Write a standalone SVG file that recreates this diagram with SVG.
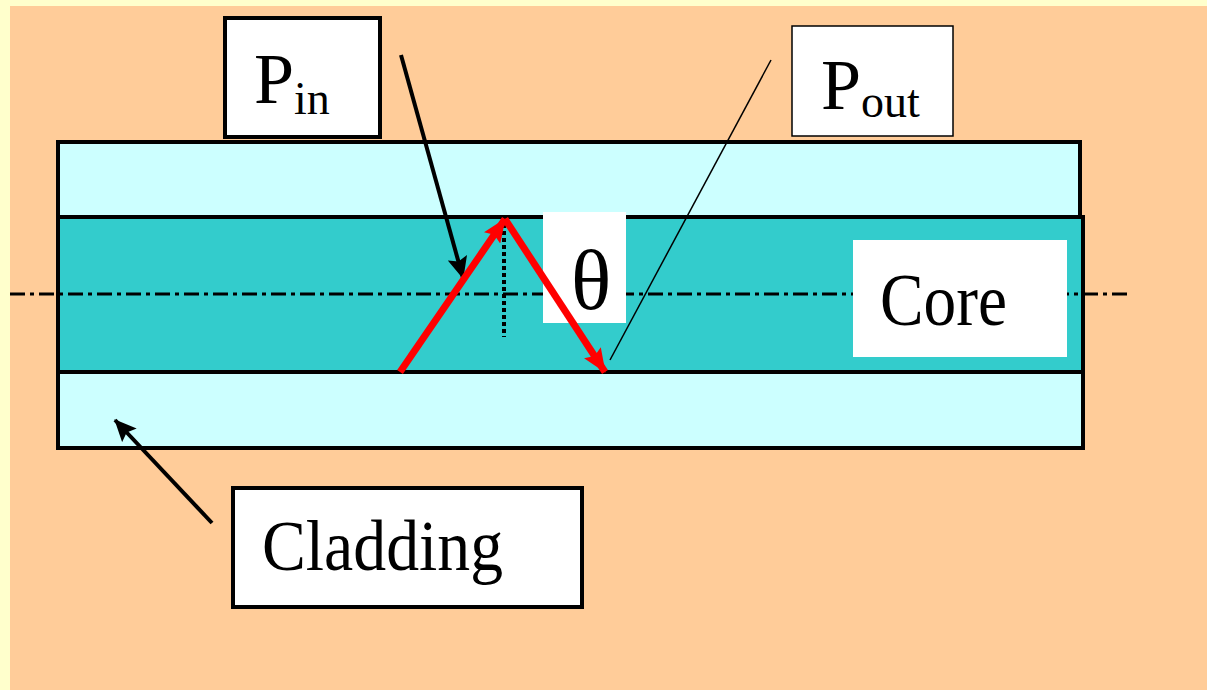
<svg xmlns="http://www.w3.org/2000/svg" width="1207" height="690" viewBox="0 0 1207 690">
<style>
.lbl{fill:#fff;stroke:#000;stroke-width:4}
.t{font-family:"Liberation Serif","Times New Roman",serif;fill:#000}
.clad{fill:#CCFFFF;stroke:#000;stroke-width:4}
</style>
<defs>
<marker id="ab" viewBox="0 0 22 20" refX="21" refY="10" markerWidth="22" markerHeight="20" markerUnits="userSpaceOnUse" orient="auto">
<path d="M0,0 L22,10 L0,20 L4,10 z" fill="#000"/>
</marker>
<marker id="ar" viewBox="0 0 24 20" refX="23" refY="10" markerWidth="24" markerHeight="20" markerUnits="userSpaceOnUse" orient="auto">
<path d="M0,0 L24,10 L0,20 L4,10 z" fill="#FF0000"/>
</marker>
</defs>
<rect x="0" y="0" width="1207" height="690" fill="#FFFFCC"/>
<rect x="10" y="6" width="1197" height="684" fill="#FFCC99"/>
<g id="fiber">
<rect class="clad" x="58" y="142" width="1022" height="75"/>
<rect x="58" y="217" width="1025" height="155" fill="#33CCCC" stroke="#000" stroke-width="4"/>
<rect class="clad" x="58" y="372" width="1025" height="76"/>
</g>
<g id="connectors">
<line x1="10" y1="294" x2="1127" y2="294" stroke="#000" stroke-width="3" stroke-dasharray="15,5,4,5"/>
<line x1="504" y1="224" x2="504" y2="337" stroke="#000" stroke-width="4" stroke-dasharray="4,3"/>
<line x1="401" y1="55" x2="463" y2="278" stroke="#000" stroke-width="4" marker-end="url(#ab)"/>
<line x1="771" y1="60" x2="610" y2="360" stroke="#000" stroke-width="1.5"/>
<line x1="212" y1="523" x2="115" y2="420" stroke="#000" stroke-width="4" marker-end="url(#ab)"/>
</g>
<g id="theta">
<rect x="543" y="212" width="83" height="111" fill="#fff"/>
<text class="t" x="591" y="309" font-size="84" text-anchor="middle">θ</text>
</g>
<g id="rays">
<line x1="400" y1="372" x2="505" y2="219" stroke="#FF0000" stroke-width="7" marker-end="url(#ar)"/>
<line x1="505" y1="219" x2="605" y2="372" stroke="#FF0000" stroke-width="7" marker-end="url(#ar)"/>
</g>
<g id="core">
<rect x="853" y="240" width="214" height="117" fill="#fff"/>
<text class="t" x="880" y="325" font-size="75" textLength="127" lengthAdjust="spacingAndGlyphs">Core</text>
</g>
<g id="pin">
<rect class="lbl" x="225" y="18" width="155" height="119"/>
<text class="t" x="254" y="103" font-size="72">P<tspan font-size="46" dy="11">in</tspan></text>
</g>
<g id="pout">
<rect x="792" y="26" width="161" height="110" fill="#fff" stroke="#000" stroke-width="1.5"/>
<text class="t" x="821" y="109" font-size="72">P<tspan font-size="46" dy="8">out</tspan></text>
</g>
<g id="cladding">
<rect class="lbl" x="233" y="488" width="349" height="119"/>
<text class="t" x="262" y="570" font-size="72" textLength="241" lengthAdjust="spacingAndGlyphs">Cladding</text>
</g>
</svg>
